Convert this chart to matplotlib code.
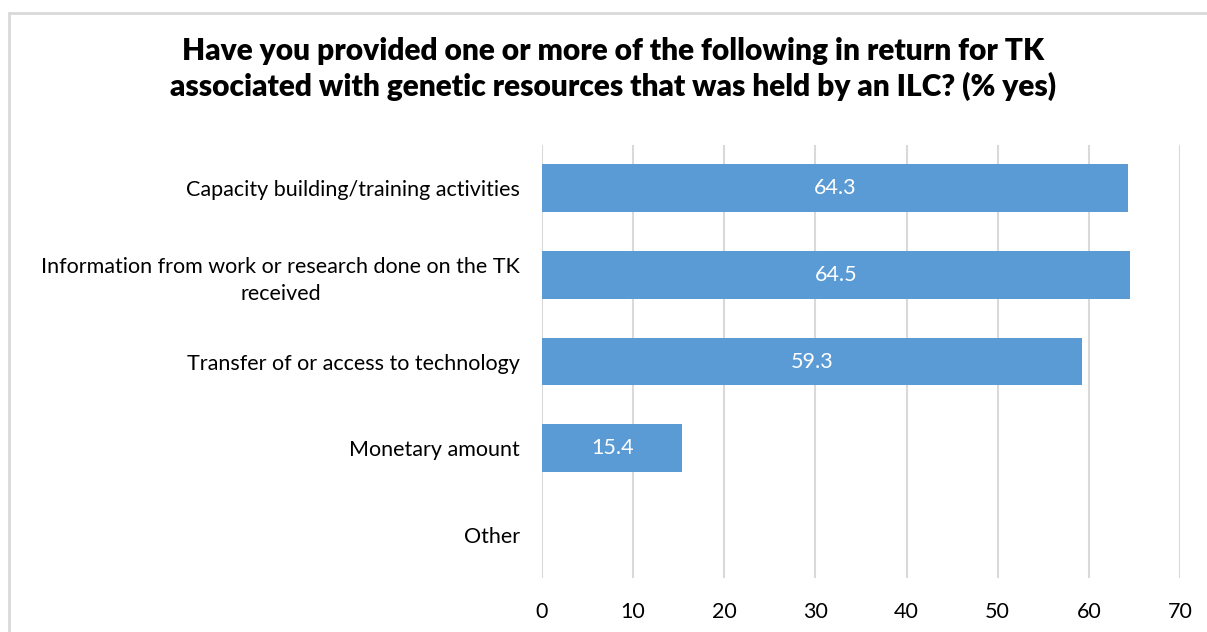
import matplotlib.pyplot as plt
from matplotlib.patches import Rectangle

categories = [
    "Capacity building/training activities",
    "Information from work or research done on the TK\nreceived",
    "Transfer of or access to technology",
    "Monetary amount",
    "Other",
]
values = [64.3, 64.5, 59.3, 15.4, 0]
x_ticks = [0, 10, 20, 30, 40, 50, 60, 70]

plt.rcParams['font.family'] = ['Lato', 'DejaVu Sans']

fig = plt.figure(figsize=(12.07, 6.32), dpi=100)
ax = fig.add_axes([542 / 1207, 1 - 578 / 632, 638 / 1207, 433 / 632])

# light grey frame around the chart (runs off right and bottom edges)
fig.patches.append(Rectangle((9 / 1207, -0.1), 1.2, 1 - 13 / 632 + 0.1,
                             transform=fig.transFigure, fill=False,
                             edgecolor='#d9d9d9', linewidth=2))

pos = list(range(len(categories)))
bars = ax.barh(pos, values, height=0.55, color='#5b9bd5', zorder=3)

for y, v in zip(pos, values):
    if v > 0:
        ax.text(v / 2, y, f"{v:.1f}", ha='center', va='center',
                color='white', fontsize=15.5, zorder=4)

ax.set_ylim(len(categories) - 0.5, -0.5)
ax.set_xlim(0, 70)
ax.set_xticks(x_ticks)
ax.set_yticks(pos)
ax.set_yticklabels(categories, fontsize=15.5, multialignment='center',
                   linespacing=1.45)
ax.tick_params(axis='x', labelsize=15.5, length=0, pad=17, colors='black')
ax.tick_params(axis='y', length=0, pad=16)

ax.grid(axis='x', color='#d9d9d9', linewidth=1.5, zorder=0)
for s in ax.spines.values():
    s.set_visible(False)

fig.text(0.508, 1 - 69 / 632,
         "Have you provided one or more of the following in return for TK\n"
         "associated with genetic resources that was held by an ILC? (% yes)",
         ha='center', va='center', fontsize=21.5, fontweight='heavy',
         linespacing=1.3)

fig.savefig("out.png", dpi=100)
